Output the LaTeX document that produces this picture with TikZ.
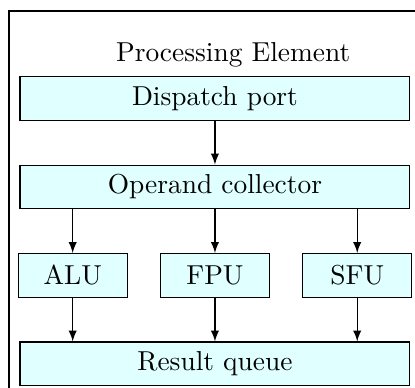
\documentclass[tikz,border=0pt]{standalone}
\usetikzlibrary{positioning}
\usetikzlibrary{arrows.meta}

\definecolor{unitfill}{RGB}{224,255,255}

\begin{document}
\begin{tikzpicture}[
    node distance=0.56cm,
    unit/.style={
        draw,
        fill=unitfill,
        minimum height=0.56cm,
    },
    wide/.style={unit, minimum width=5.0cm},
    narrow/.style={unit, minimum width=1.4cm},
    flow/.style={draw, -latex}
]

\clip (0,0) rectangle (5.321,-4.974);

% processing element frame
\draw (0.115,-0.141) rectangle (5.86,-5.6);
\node (title) at (2.99,-0.705) {Processing Element};

\node[wide] (dispatch) at (2.756,-1.263) {Dispatch port};
\node[wide, below=of dispatch] (operand) {Operand collector};
\node[narrow, below=of operand] (fpu) {FPU};
\node[narrow, left=0.41cm of fpu] (alu) {ALU};
\node[narrow, right=0.41cm of fpu] (sfu) {SFU};
\node[wide, below=of fpu] (result) {Result queue};

\draw[flow] (dispatch) -- (operand);
\foreach \u in {alu,fpu,sfu} {
    \draw[flow] (operand.south -| \u.north) -- (\u.north);
    \draw[flow] (\u.south) -- (\u.south |- result.north);
}

\end{tikzpicture}
\end{document}
